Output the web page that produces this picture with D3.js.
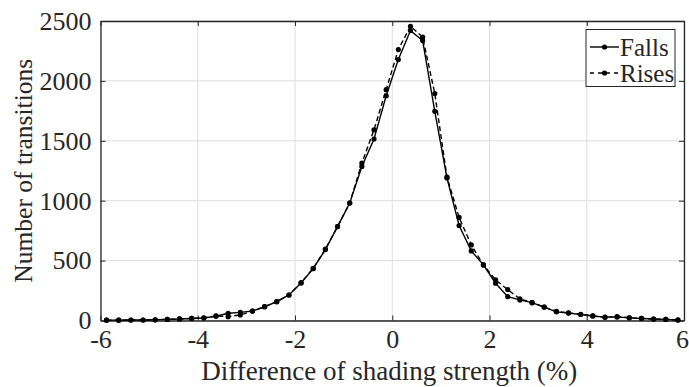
<!DOCTYPE html>
<html><head><meta charset="utf-8">
<script src="https://cdn.jsdelivr.net/npm/d3@7"></script>
<style>body{margin:0;background:#fff}svg{display:block}</style>
</head><body>
<script>
const binCenters = d3.range(48).map(i => -5.875 + 0.25 * i);
const falls = [3,3,4,4,6,9,13,17,21,36,60,68,79,115,157,213,313,433,592,784,980,1286,1515,1876,2178,2420,2337,1746,1190,793,581,464,311,199,172,149,112,72,62,50,38,28,30,22,17,12,9,5];
const rises = [3,3,4,4,6,9,13,17,22,38,32,46,79,115,157,213,316,436,596,784,980,1314,1592,1927,2262,2456,2365,1894,1198,860,631,464,339,258,180,149,112,76,64,52,38,27,32,23,18,12,10,4];
const xTicks = [-6,-4,-2,0,2,4,6];
const yTicks = [0,500,1000,1500,2000,2500];
const seriesNames = ["Falls","Rises"];

const W = 689, H = 387;
const m = {l:100.5, r:684, t:21, b:320.5};
const svg = d3.select("body").append("svg").attr("width",W).attr("height",H);
const x = d3.scaleLinear().domain([-6,6]).range([m.l,m.r]);
const y = d3.scaleLinear().domain([0,2500]).range([m.b,m.t]);
const font = '"Liberation Serif"';
const axisCol = "#262626";
const txtCol = "#262626";
const fmt = d => String(d);

// grid
svg.append("g").selectAll("line").data(xTicks).join("line")
  .attr("x1",d=>x(d)).attr("x2",d=>x(d)).attr("y1",m.t).attr("y2",m.b)
  .attr("stroke","#dedede").attr("stroke-width",1);
svg.append("g").selectAll("line").data(yTicks).join("line")
  .attr("x1",m.l).attr("x2",m.r).attr("y1",d=>y(d)).attr("y2",d=>y(d))
  .attr("stroke","#dedede").attr("stroke-width",1);

// axes
const xAxis = svg.append("g").attr("transform",`translate(0,${m.b})`)
  .call(d3.axisBottom(x).tickValues(xTicks).tickFormat(fmt).tickSizeInner(-5).tickSizeOuter(0).tickPadding(9));
const xTop = svg.append("g").attr("transform",`translate(0,${m.t})`)
  .call(d3.axisTop(x).tickValues(xTicks).tickSizeInner(-5).tickSizeOuter(0).tickFormat(""));
const yAxis = svg.append("g").attr("transform",`translate(${m.l},0)`)
  .call(d3.axisLeft(y).tickValues(yTicks).tickFormat(fmt).tickSizeInner(-5).tickSizeOuter(0).tickPadding(9));
const yRight = svg.append("g").attr("transform",`translate(${m.r},0)`)
  .call(d3.axisRight(y).tickValues(yTicks).tickSizeInner(-5).tickSizeOuter(0).tickFormat(""));
[xAxis,xTop,yAxis,yRight].forEach(g=>{
  g.attr("font-family",null).attr("font-size",null);
  g.select(".domain").attr("stroke",axisCol).attr("stroke-width",1.3);
  g.selectAll(".tick line").attr("stroke",axisCol).attr("stroke-width",1);
  g.selectAll("text").attr("fill",txtCol).style("font-family",font).style("font-size","26px");
});
xAxis.selectAll(".tick text").filter(d=>d===6).attr("dx",-2);

// axis titles
svg.append("text").attr("x",(m.l+m.r)/2 - 3).attr("y",380).attr("text-anchor","middle")
  .style("font-family",font).style("font-size","27px").attr("fill",txtCol)
  .text("Difference of shading strength (%)");
svg.append("text").attr("transform",`translate(32,${(m.t+m.b)/2}) rotate(-90)`)
  .attr("text-anchor","middle").style("font-family",font).style("font-size","25.5px").attr("fill",txtCol)
  .text("Number of transitions");

// series
const line = d3.line().x((d,i)=>x(binCenters[i])).y(d=>y(d));
const series = [{name:"Falls",data:falls,dash:null},{name:"Rises",data:rises,dash:"5,3"}];
const plot = svg.append("g");
series.forEach(s=>{
  plot.append("path").datum(s.data).attr("d",line).attr("fill","none")
    .attr("stroke","#000").attr("stroke-width",1.4).attr("stroke-dasharray",s.dash);
  plot.selectAll(null).data(s.data).join("circle")
    .attr("cx",(d,i)=>x(binCenters[i])).attr("cy",d=>y(d)).attr("r",2.6).attr("fill","#000");
});

// legend
const lg = svg.append("g");
lg.append("rect").attr("x",586).attr("y",29.5).attr("width",89).attr("height",57)
  .attr("fill","#fff").attr("stroke",axisCol).attr("stroke-width",1);
series.forEach((s,i)=>{
  const yy = 47 + i*26;
  lg.append("line").attr("x1",590).attr("x2",619).attr("y1",yy).attr("y2",yy)
    .attr("stroke","#000").attr("stroke-width",1.4).attr("stroke-dasharray",s.dash ? "4,4" : null);
  lg.append("circle").attr("cx",604.5).attr("cy",yy).attr("r",2.6).attr("fill","#000");
  lg.append("text").attr("x",620).attr("y",yy+8.5).style("font-family",font).style("font-size","25px")
    .attr("fill",txtCol).text(seriesNames[i]);
});
</script>
</body></html>
